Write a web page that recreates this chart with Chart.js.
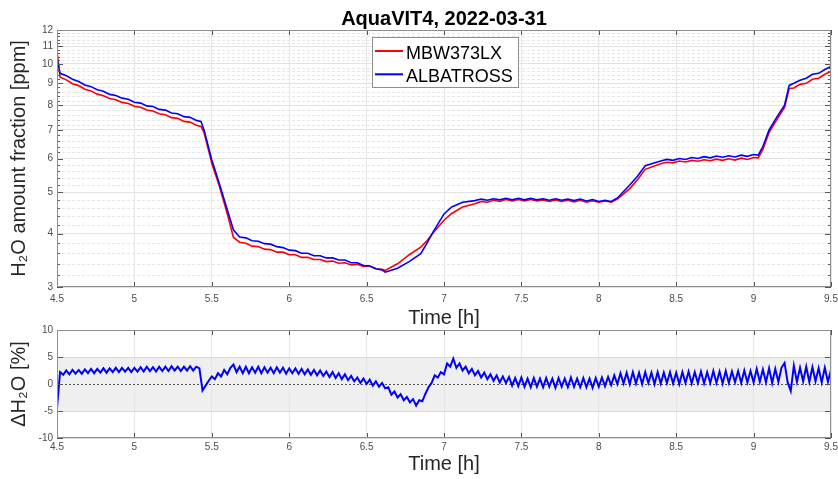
<!DOCTYPE html>
<html lang="en">
<head>
<meta charset="UTF-8">
<title>AquaVIT4, 2022-03-31</title>
<script src="https://cdn.jsdelivr.net/npm/chart.js@4.4.1/dist/chart.umd.min.js"></script>
<style>
  html, body { margin: 0; padding: 0; background: #fff; }
  #wrap { position: relative; width: 838px; height: 479px; }
  #topChart { position: absolute; left: 0; top: 0; }
  #botChart { position: absolute; left: 0; top: 320px; }
</style>
</head>
<body>
<div id="wrap">
  <canvas id="topChart" width="838" height="330"></canvas>
  <canvas id="botChart" width="838" height="159"></canvas>
</div>
<script>
const chartTitle = "AquaVIT4, 2022-03-31";
const seriesNames = ["MBW373LX", "ALBATROSS"];

// top panel: time [h] and H2O amount fraction [ppm]
const timeTop = [4.50, 4.52,
  4.56, 4.60, 4.64, 4.68, 4.72, 4.76, 4.80, 4.84, 4.88, 4.92, 4.96, 5.00, 5.04, 5.08, 5.12, 5.16, 5.20, 5.24, 5.28, 5.32, 5.36, 5.40,
  5.43, 5.45, 5.50, 5.55, 5.60, 5.64, 5.68,
  5.72, 5.76, 5.80, 5.84, 5.88, 5.92, 5.96, 6.00, 6.04, 6.08, 6.12, 6.16, 6.20, 6.24, 6.28, 6.32, 6.36, 6.40, 6.44, 6.48, 6.52, 6.56, 6.60,
  6.62, 6.70, 6.78, 6.85, 6.89, 6.93, 7.00, 7.05, 7.12,
  7.20, 7.24, 7.28, 7.32, 7.36, 7.40, 7.44, 7.48, 7.52, 7.56, 7.60, 7.64, 7.68, 7.72, 7.76, 7.80, 7.84, 7.88, 7.92, 7.96, 8.00, 8.04, 8.08,
  8.12, 8.20, 8.25, 8.30,
  8.40, 8.44, 8.48, 8.52, 8.56, 8.60, 8.64, 8.68, 8.72, 8.76, 8.80, 8.84, 8.88, 8.92, 8.96, 9.00,
  9.03, 9.06, 9.10, 9.15, 9.20, 9.23, 9.26,
  9.30, 9.34, 9.38, 9.42, 9.46, 9.50];
const mbw = [10.7, 9.3,
  9.17, 8.98, 8.89, 8.72, 8.64, 8.49, 8.42, 8.29, 8.24, 8.12, 8.07, 7.95, 7.91, 7.79, 7.75, 7.64, 7.60, 7.48, 7.45, 7.33, 7.30, 7.18,
  7.13, 6.9, 5.85, 5.15, 4.45, 3.92, 3.82,
  3.80, 3.74, 3.73, 3.68, 3.67, 3.62, 3.62, 3.57, 3.57, 3.52, 3.52, 3.48, 3.48, 3.44, 3.45, 3.41, 3.42, 3.38, 3.39, 3.35, 3.36, 3.31, 3.30,
  3.28, 3.4, 3.58, 3.72, 3.85, 4.02, 4.3, 4.46, 4.62,
  4.70, 4.76, 4.74, 4.79, 4.76, 4.81, 4.77, 4.81, 4.77, 4.81, 4.77, 4.80, 4.76, 4.80, 4.76, 4.79, 4.75, 4.79, 4.74, 4.78, 4.74, 4.77, 4.74,
  4.82, 5.1, 5.35, 5.66,
  5.83, 5.88, 5.86, 5.92, 5.89, 5.94, 5.91, 5.96, 5.93, 5.98, 5.94, 5.99, 5.95, 6.01, 5.97, 6.03,
  6.02, 6.3, 6.9, 7.4, 7.9, 8.75, 8.78,
  8.95, 9.0, 9.2, 9.25, 9.45, 9.6];
const albatross = [10.3, 9.5,
  9.38, 9.20, 9.09, 8.92, 8.84, 8.69, 8.62, 8.48, 8.43, 8.31, 8.26, 8.13, 8.09, 7.97, 7.94, 7.82, 7.79, 7.67, 7.64, 7.52, 7.49, 7.37,
  7.33, 7.0, 5.95, 5.22, 4.55, 4.08, 3.93,
  3.91, 3.85, 3.84, 3.79, 3.78, 3.73, 3.71, 3.66, 3.65, 3.60, 3.60, 3.55, 3.55, 3.51, 3.51, 3.47, 3.47, 3.42, 3.42, 3.37, 3.36, 3.31, 3.29,
  3.25, 3.32, 3.45, 3.59, 3.8, 4.04, 4.45, 4.62, 4.74,
  4.78, 4.82, 4.79, 4.83, 4.80, 4.84, 4.80, 4.84, 4.80, 4.84, 4.80, 4.83, 4.79, 4.83, 4.79, 4.82, 4.78, 4.82, 4.77, 4.81, 4.76, 4.79, 4.76,
  4.85, 5.2, 5.45, 5.77,
  5.92, 5.97, 5.94, 6.00, 5.97, 6.03, 6.00, 6.06, 6.02, 6.08, 6.04, 6.09, 6.05, 6.11, 6.07, 6.13,
  6.11, 6.4, 7.0, 7.5, 8.0, 8.9, 9.0,
  9.15, 9.25, 9.45, 9.5, 9.7, 9.85];

// bottom panel: relative difference [%], sampled every deltaStep hours from deltaStart
const deltaStart = 4.5;
const deltaStep = 0.02;
const deltaH2O = [-4.4,
  2.2, 1.7, 2.5, 1.8, 2.6, 1.9, 2.6, 1.9, 2.7, 2.0,
  2.8, 2.0, 2.8, 2.1, 2.9, 2.1, 2.9, 2.2, 3.0, 2.2, 3.0, 2.3, 3.0, 2.2, 3.0,
  2.3, 3.1, 2.3, 3.2, 2.4, 3.1, 2.3, 3.2, 2.4, 3.2, 2.4, 3.3, 2.5, 3.2, 2.4, 3.2, 2.5, 3.3, 2.5, 3.2, 2.9,
  -1.2, -0.3, 0.6, 1.4, 0.9, 2.0, 1.4, 2.6, 1.8, 3.0, 3.6, 2.2, 3.2,
  2.0, 3.2, 2.0, 3.1, 2.1, 3.2, 2.0, 3.1, 2.1, 3.0, 2.0, 3.1, 2.1, 3.0, 1.9, 2.9, 2.0, 2.9, 1.9, 2.8, 1.8,
  2.7, 1.7, 2.6, 1.6, 2.5, 1.5, 2.3, 1.3, 2.2, 1.1, 2.0, 0.9, 1.8, 0.7, 1.5, 0.5, 1.2, 0.2, 1.0, 0.0,
  0.8, -0.3, 0.5, -0.5, 0.2, -0.8, -0.6, -2.0, -1.4, -2.5, -1.9, -3.0, -2.4, -3.4, -2.8, -4.0,
  -3.0, -3.2, -1.8, -0.6, 0.2, 1.6, 1.2, 2.2, 1.8, 3.8, 3.2, 4.7, 3.0, 3.8, 2.5, 3.2, 2.0, 2.8, 1.6, 2.4,
  1.2, 2.1, 0.9, 1.8, 0.6, 1.6, 0.3, 1.4, 0.2, 1.3,
  -0.3, 1.1, -0.4, 1.2, -0.5, 1.0, -0.6, 1.1, -0.5, 1.0, -0.6, 1.1, -0.5, 1.0, -0.7, 1.1,
  -0.5, 1.0, -0.6, 1.2, -0.5, 1.0, -0.6, 1.1, -0.6, 1.0, -0.7, 1.1, -0.5, 1.2, -0.4, 1.3,
  -0.2, 1.6, 0.0, 2.0, 0.1, 2.1, 0.0, 2.2, 0.1, 2.1, 0.0, 2.2, 0.2, 2.1, 0.0, 2.2, 0.1, 2.1, 0.2, 2.2, 0.1, 2.1,
  0.0, 2.2, 0.2, 2.3, 0.1, 2.2, 0.2, 2.3, 0.1, 2.2, 0.2, 2.4, 0.2, 2.3, 0.1, 2.4, 0.2, 2.3, 0.3, 2.4, 0.2, 2.5, 0.3, 2.4, 0.3,
  2.8, 0.4, 2.7, 0.3, 2.9, 0.2, 2.8, 0.4, 3.0, 3.9,
  0.3, -1.3, 3.4, 0.4, 3.0, 0.5, 3.2, 0.4, 3.1, 0.5, 2.9, 0.3, 3.0, 0.4, 2.6];

const xTicks = [4.5, 5, 5.5, 6, 6.5, 7, 7.5, 8, 8.5, 9, 9.5];
const yTicksTop = [3, 4, 5, 6, 7, 8, 9, 10, 11, 12];
const yTicksBottom = [-10, -5, 0, 5, 10];
const bandLow = -5, bandHigh = 5;

const fontFamily = "'Liberation Sans', Arial, Helvetica, sans-serif";
Chart.defaults.font.family = fontFamily;

// minor log grid every 0.2 ppm
const minorTop = [];
for (let k = 16; k < 60; k++) { if (k % 5 !== 0) minorTop.push(k / 5); }

function drawFrame(chart, yTicks, yMinor) {
  const {ctx, chartArea: a, scales: {x, y}} = chart;
  ctx.save();
  ctx.strokeStyle = '#555';
  ctx.lineWidth = 1;
  ctx.beginPath();
  xTicks.forEach(v => {
    const px = Math.round(x.getPixelForValue(v)) + 0.5;
    ctx.moveTo(px, a.top); ctx.lineTo(px, a.top + 5);
    ctx.moveTo(px, a.bottom); ctx.lineTo(px, a.bottom - 5);
  });
  yTicks.forEach(v => {
    const py = Math.round(y.getPixelForValue(v)) + 0.5;
    ctx.moveTo(a.left, py); ctx.lineTo(a.left + 6, py);
    ctx.moveTo(a.right, py); ctx.lineTo(a.right - 6, py);
  });
  (yMinor || []).forEach(v => {
    const py = Math.round(y.getPixelForValue(v)) + 0.5;
    ctx.moveTo(a.left, py); ctx.lineTo(a.left + 3, py);
    ctx.moveTo(a.right, py); ctx.lineTo(a.right - 3, py);
  });
  ctx.stroke();
  ctx.strokeStyle = '#8f8f8f';
  ctx.strokeRect(Math.round(a.left) + 0.5, Math.round(a.top) + 0.5,
                 Math.round(a.right - a.left) - 1, Math.round(a.bottom - a.top) - 1);
  ctx.restore();
}

const topPlugin = {
  id: 'topPlugin',
  beforeDatasetsDraw(chart) {
    const {ctx, chartArea: a, scales: {y}} = chart;
    ctx.save();
    ctx.strokeStyle = '#e6e6e6';
    ctx.lineWidth = 1;
    ctx.setLineDash([3, 2]);
    ctx.beginPath();
    minorTop.forEach(v => {
      const py = Math.round(y.getPixelForValue(v)) + 0.5;
      ctx.moveTo(a.left, py); ctx.lineTo(a.right, py);
    });
    ctx.stroke();
    ctx.restore();
  },
  afterDraw(chart) {
    const {ctx, chartArea: a} = chart;
    drawFrame(chart, yTicksTop, minorTop);
    ctx.save();
    // title
    ctx.fillStyle = '#000';
    ctx.font = 'bold 20px ' + fontFamily;
    ctx.textAlign = 'center';
    ctx.textBaseline = 'alphabetic';
    ctx.fillText(chartTitle, (a.left + a.right) / 2, 25);
    // legend
    const lx = a.left + 315, ly = 37, lw = 146, lh = 50;
    ctx.fillStyle = '#fff';
    ctx.fillRect(lx, ly, lw, lh);
    ctx.strokeStyle = '#8f8f8f';
    ctx.lineWidth = 1;
    ctx.strokeRect(lx + 0.5, ly + 0.5, lw, lh);
    ctx.font = '18px ' + fontFamily;
    ctx.textAlign = 'left';
    chart.data.datasets.forEach((ds, i) => {
      const rowY = ly + 14 + i * 23.3;
      ctx.strokeStyle = ds.borderColor;
      ctx.lineWidth = 2;
      ctx.beginPath();
      ctx.moveTo(lx + 3, rowY); ctx.lineTo(lx + 31, rowY);
      ctx.stroke();
      ctx.fillStyle = '#000';
      ctx.fillText(ds.label, lx + 34, rowY + 7.5);
    });
    ctx.restore();
  }
};

const bottomPlugin = {
  id: 'bottomPlugin',
  beforeDraw(chart) {
    const {ctx, chartArea: a, scales: {y}} = chart;
    ctx.save();
    ctx.fillStyle = '#efefef';
    const y1 = y.getPixelForValue(bandHigh), y2 = y.getPixelForValue(bandLow);
    ctx.fillRect(a.left, y1, a.right - a.left, y2 - y1);
    ctx.restore();
  },
  beforeDatasetsDraw(chart) {
    const {ctx, chartArea: a, scales: {y}} = chart;
    ctx.save();
    ctx.strokeStyle = '#555';
    ctx.lineWidth = 1;
    ctx.setLineDash([2, 2]);
    const py = Math.round(y.getPixelForValue(0)) + 0.5;
    ctx.beginPath();
    ctx.moveTo(a.left, py); ctx.lineTo(a.right, py);
    ctx.stroke();
    ctx.restore();
  },
  afterDraw(chart) {
    drawFrame(chart, yTicksBottom, null);
  }
};

function xScale(height, labelPad, titlePad) {
  return {
    type: 'linear', min: 4.5, max: 9.5,
    afterBuildTicks: s => { s.ticks = xTicks.map(v => ({value: v})); },
    afterFit: s => { s.height = height; s.paddingLeft = 0; s.paddingRight = 0; },
    grid: {color: '#e6e6e6', drawTicks: false},
    border: {display: false},
    ticks: {padding: labelPad, color: '#4d4d4d', font: {size: 10}, maxRotation: 0, autoSkip: false,
            callback: v => String(v)},
    title: {display: true, text: 'Time [h]', color: '#262626', font: {size: 20},
            padding: {top: 0, bottom: titlePad}}
  };
}

new Chart(document.getElementById('topChart'), {
  type: 'line',
  data: {
    datasets: [
      {label: seriesNames[0], data: timeTop.map((t, i) => ({x: t, y: mbw[i]})),
       borderColor: '#ff0000', borderWidth: 1.6, pointRadius: 0, order: 2},
      {label: seriesNames[1], data: timeTop.map((t, i) => ({x: t, y: albatross[i]})),
       borderColor: '#0000ff', borderWidth: 1.6, pointRadius: 0, order: 1}
    ]
  },
  options: {
    responsive: false, animation: false, devicePixelRatio: 1, events: [],
    layout: {padding: {top: 30, right: 7, left: 0, bottom: 0}},
    plugins: {legend: {display: false}, title: {display: false}, tooltip: {enabled: false}},
    scales: {
      x: xScale(43, 6, 0),
      y: {
        type: 'logarithmic', min: 3, max: 12,
        afterBuildTicks: s => { s.ticks = yTicksTop.map(v => ({value: v})); },
        afterFit: s => { s.width = 57; },
        grid: {color: '#e2e2e2', drawTicks: false},
        border: {display: false},
        ticks: {padding: 4, color: '#4d4d4d', font: {size: 10}, autoSkip: false,
                callback: v => String(v)},
        title: {display: true, text: 'H\u2082O amount fraction [ppm]', color: '#262626',
                font: {size: 20}, padding: {top: 7, bottom: 0}}
      }
    }
  },
  plugins: [topPlugin]
});

new Chart(document.getElementById('botChart'), {
  type: 'line',
  data: {
    datasets: [
      {label: '\u0394H\u2082O', data: deltaH2O.map((v, i) => ({x: deltaStart + i * deltaStep, y: v})),
       borderColor: '#0000ff', borderWidth: 2, pointRadius: 0}
    ]
  },
  options: {
    responsive: false, animation: false, devicePixelRatio: 1, events: [],
    layout: {padding: {top: 9, right: 7, left: 0, bottom: 0}},
    plugins: {legend: {display: false}, title: {display: false}, tooltip: {enabled: false}},
    scales: {
      x: xScale(41, 3, 3),
      y: {
        type: 'linear', min: -10, max: 10,
        afterBuildTicks: s => { s.ticks = yTicksBottom.map(v => ({value: v})); },
        afterFit: s => { s.width = 57; },
        grid: {color: ctx => ctx.tick && ctx.tick.value === 0 ? 'rgba(0,0,0,0)' : '#dadada', drawTicks: false},
        border: {display: false},
        ticks: {padding: 4, color: '#4d4d4d', font: {size: 10}, autoSkip: false,
                callback: v => String(v)},
        title: {display: true, text: '\u0394H\u2082O [%]', color: '#262626',
                font: {size: 20}, padding: {top: 7, bottom: 0}}
      }
    }
  },
  plugins: [bottomPlugin]
});
</script>
</body>
</html>
